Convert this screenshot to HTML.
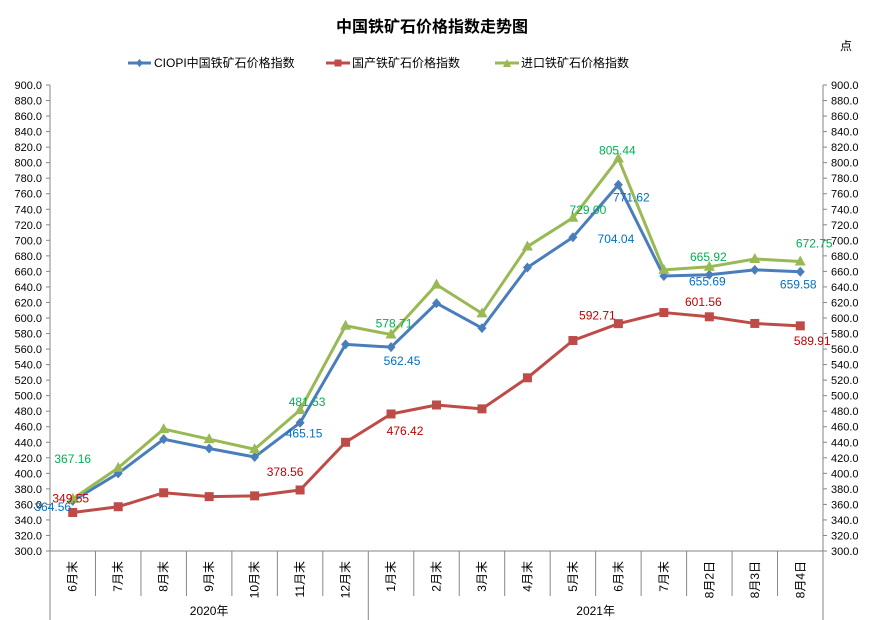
<!DOCTYPE html>
<html><head><meta charset="utf-8"><style>
body{margin:0;background:#fff;}
svg{display:block;font-family:"Liberation Sans","Noto Sans CJK SC",sans-serif;}
</style></head><body>
<svg id="chart" width="869" height="620" viewBox="0 0 869 620" xmlns="http://www.w3.org/2000/svg">
<rect width="869" height="620" fill="#fff"/>
<text x="432" y="32" text-anchor="middle" font-size="16" font-weight="bold" fill="#000">中国铁矿石价格指数走势图</text>
<text x="846" y="50" text-anchor="middle" font-size="12" fill="#000">点</text>
<g font-size="12" fill="#000">
  <g>
    <line x1="128" y1="63" x2="151" y2="63" stroke="#4a7ebb" stroke-width="3"/>
    <path d="M139.5 59 L143 63 L139.5 67 L136 63 Z" fill="#4a7ebb"/>
    <text x="154" y="67">CIOPI中国铁矿石价格指数</text>
  </g>
  <g>
    <line x1="326" y1="63" x2="350" y2="63" stroke="#be4b48" stroke-width="3"/>
    <rect x="334.5" y="59.5" width="7" height="7" fill="#be4b48"/>
    <text x="352" y="67">国产铁矿石价格指数</text>
  </g>
  <g>
    <line x1="495" y1="63" x2="519" y2="63" stroke="#98b954" stroke-width="3"/>
    <path d="M507 59 L511 67 L503 67 Z" fill="#98b954"/>
    <text x="521" y="67">进口铁矿石价格指数</text>
  </g>
</g>
<g id="axes"></g>
<g id="series"></g>
<g id="labels"></g>
</svg>
<script>
const categories=["6月末","7月末","8月末","9月末","10月末","11月末","12月末","1月末","2月末","3月末","4月末","5月末","6月末","7月末","8月2日","8月3日","8月4日"];
const years=["2020年","2021年"];
const ciopi=[364.56,400,444,432,421,465.15,566,562.45,619,587,665,704.04,771.62,654,655.69,662,659.58];
const domestic=[349.55,357,375,370,371,378.56,440,476.42,488,483,523,571,592.71,607,601.56,593,589.91];
const imported=[367.16,407,457,444,431,481.53,590,578.71,643,606,692,729.00,805.44,662,665.92,676,672.75];
const yTicks=[300,320,340,360,380,400,420,440,460,480,500,520,540,560,580,600,620,640,660,680,700,720,740,760,780,800,820,840,860,880,900];
const labeledCiopi=[0,5,7,11,12,14,16];
const labeledDomestic=[0,5,7,12,14,16];
const labeledImport=[0,5,7,11,12,14,16];

const NS="http://www.w3.org/2000/svg";
const L=50,R=823,T=85,B=551,yMin=300,yMax=900;
const step=(R-L)/categories.length;
const xs=i=>L+step*(i+0.5);
const ys=v=>B-(v-yMin)/(yMax-yMin)*(B-T);
function mk(tag,attrs,parent){const e=document.createElementNS(NS,tag);for(const k in attrs)e.setAttribute(k,attrs[k]);parent.appendChild(e);return e;}
const axes=document.getElementById('axes'),series=document.getElementById('series'),labels=document.getElementById('labels');

let e=mk('line',{x1:L,y1:T,x2:L,y2:620,stroke:'#868686'},axes);


e=mk('line',{x1:R,y1:T,x2:R,y2:620,stroke:'#868686'},axes);


e=mk('line',{x1:L,y1:B,x2:R,y2:B,stroke:'#868686'},axes);


yTicks.forEach(v=>{
  const y=ys(v);
  mk('line',{x1:L-4,y1:y,x2:L,y2:y,stroke:'#868686'},axes);
  mk('line',{x1:R,y1:y,x2:R+4,y2:y,stroke:'#868686'},axes);
  let t=mk('text',{x:L-8,y:y+4,'text-anchor':'end','font-size':'11',fill:'#000'},axes);
  t.textContent=v.toFixed(1);
  
  
  t=mk('text',{x:R+8,y:y+4,'text-anchor':'start','font-size':'11',fill:'#000'},axes);
  t.textContent=v.toFixed(1);
  
  
});
categories.forEach((c,i)=>{
  const xb=L+step*(i+1);
  if(i<categories.length-1){
    mk('line',{x1:xb,y1:B,x2:xb,y2:(i==6?620:596),stroke:'#868686'},axes);
  }
  const cx=xs(i);
  const t=mk('text',{x:0,y:0,transform:`translate(${cx+4},${B+10}) rotate(-90)`,'text-anchor':'end','font-size':'12',fill:'#000'},axes);
  t.textContent=c;
  
  
});
[[0,7],[7,17]].forEach((r,k)=>{
  const t=mk('text',{x:(L+step*r[0]+L+step*r[1])/2,y:615,'text-anchor':'middle','font-size':'12',fill:'#000'},axes);
  t.textContent=years[k];
  
  
});

function drawSeries(data,color,marker,name,labelColor,idx,offs){
  const g=mk('g',{},series);
  
  
  const p=mk('polyline',{points:data.map((v,i)=>xs(i)+','+ys(v)).join(' '),fill:'none',stroke:color,'stroke-width':3,'stroke-linejoin':'round'},g);
  
  
  data.forEach((v,i)=>{
    const x=xs(i),y=ys(v);let m;
    if(marker=='d')m=mk('path',{d:`M${x} ${y-5}L${x+4.5} ${y}L${x} ${y+5}L${x-4.5} ${y}Z`,fill:color},g);
    else if(marker=='s')m=mk('rect',{x:x-4.5,y:y-4.5,width:9,height:9,fill:color},g);
    else m=mk('path',{d:`M${x} ${y-6}L${x+5.5} ${y+4}L${x-5.5} ${y+4}Z`,fill:color},g);
    
    
  });
  idx.forEach((i,k)=>{
    const o=offs[k]||[0,-8];
    const t=mk('text',{x:xs(i)+o[0],y:ys(data[i])+o[1],'text-anchor':'middle','font-size':'12',fill:labelColor},labels);
    t.textContent=data[i].toFixed(2);
    
    
  });
}
drawSeries(domestic,'#be4b48','s','domestic','#c00000',labeledDomestic,[[-2,-10],[-15,-14],[14,21],[-21,-4],[-6,-11],[12,19]]);
drawSeries(ciopi,'#4a7ebb','d','ciopi','#0070c0',labeledCiopi,[[-20,10],[4,15],[11,18],[43,6],[13,17],[-2,11],[-2,17]]);
drawSeries(imported,'#98b954','t','import','#00b050',labeledImport,[[0,-36],[7,-4],[3,-7],[15,-4],[-1,-4],[-1,-6],[14,-14]]);
</script>
</body></html>
